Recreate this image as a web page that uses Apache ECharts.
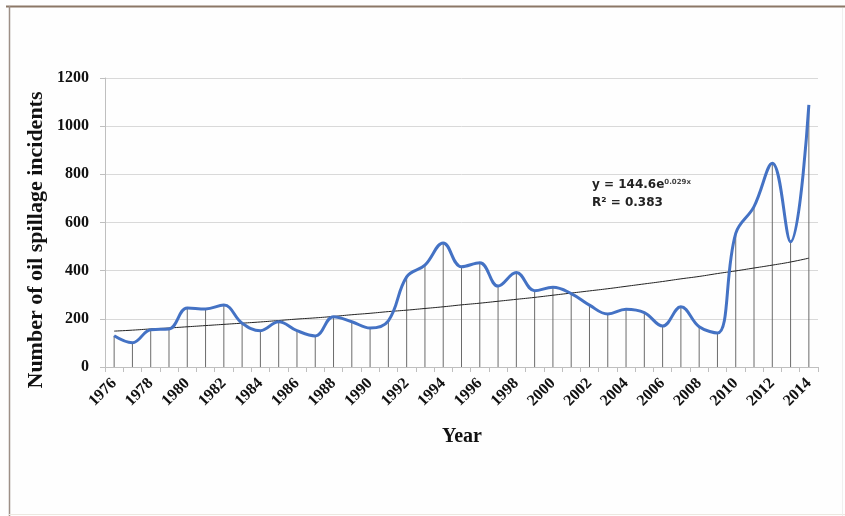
<!DOCTYPE html>
<html>
<head>
<meta charset="utf-8">
<script src="https://cdn.jsdelivr.net/npm/echarts@6/dist/echarts.min.js"></script>
<style>
  html, body { margin: 0; padding: 0; background: #fff; }
  #chart { width: 845px; height: 516px; }
</style>
</head>
<body>
<div id="chart"></div>
<script>
// years on the x axis
const years = []
for (let y = 1976; y <= 2014; y++) years.push(String(y))

// number of oil spillage incidents
const incidents = [
  130, 101, 155, 158, 245, 241, 257, 182, 151, 188,
  151, 129, 209, 188, 162, 192, 374, 423, 515, 416,
  433, 336, 392, 317, 331, 305, 257, 220, 240, 226,
  170, 250, 167, 141, 555, 666, 846, 520, 1088
]

// exponential trend line (y = 144.6e^0.029x)
const trend = [
  149, 153, 158, 162, 167, 172, 177, 182, 187, 193,
  199, 204, 210, 217, 223, 230, 236, 243, 250, 258,
  265, 273, 281, 289, 298, 307, 316, 325, 335, 345,
  355, 366, 376, 388, 399, 411, 423, 436, 452
]

const yTicks = [0, 200, 400, 600, 800, 1000, 1200]

const serif = '"Liberation Serif", "Times New Roman", serif'
const sans = '"DejaVu Sans", Verdana, sans-serif'

const chart = echarts.init(document.getElementById('chart'))

const option = {
  backgroundColor: '#fefefe',
  animation: false,
  grid: { left: 105, right: 27, top: 78, bottom: 149 },
  xAxis: {
    type: 'category',
    data: years,
    boundaryGap: true,
    axisLine: { lineStyle: { color: '#bfbfbf', width: 1 } },
    axisTick: { show: true, interval: 0, length: 5, lineStyle: { color: '#bfbfbf' } },
    axisLabel: {
      interval: 1,
      rotate: 45,
      margin: 14,
      color: '#111',
      fontFamily: serif,
      fontWeight: 'bold',
      fontSize: 16
    },
    splitLine: { show: false }
  },
  yAxis: {
    type: 'value',
    min: yTicks[0],
    max: yTicks[yTicks.length - 1],
    interval: 200,
    axisLine: { show: true, lineStyle: { color: '#bfbfbf' } },
    axisTick: { show: true, length: 5, lineStyle: { color: '#bfbfbf' } },
    axisLabel: {
      margin: 16,
      color: '#111',
      fontFamily: serif,
      fontWeight: 'bold',
      fontSize: 16,
      formatter: (v) => String(v)
    },
    splitLine: { lineStyle: { color: '#d9d9d9', width: 1 } }
  },
  series: [
    {
      // vertical drop lines
      name: 'drop',
      type: 'bar',
      data: incidents,
      barWidth: 1,
      itemStyle: { color: '#6b6b6b' },
      silent: true,
      z: 1
    },
    {
      name: 'trend',
      type: 'line',
      data: trend,
      smooth: true,
      symbol: 'none',
      lineStyle: { color: '#222', width: 1 },
      z: 2
    },
    {
      name: 'incidents',
      type: 'line',
      data: incidents,
      smooth: 0.4,
      symbol: 'none',
      lineStyle: { color: '#4472c4', width: 3 },
      z: 3
    }
  ],
  graphic: [
    // outer frame
    { type: 'line', shape: { x1: 6, y1: 6.5, x2: 845, y2: 6.5 }, style: { stroke: '#8b7766', lineWidth: 2 } },
    { type: 'line', shape: { x1: 9.5, y1: 6, x2: 9.5, y2: 516 }, style: { stroke: '#9d8f86', lineWidth: 1.5 } },
    { type: 'line', shape: { x1: 9, y1: 514.5, x2: 845, y2: 514.5 }, style: { stroke: '#ece8e0', lineWidth: 1 } },
    { type: 'line', shape: { x1: 842.5, y1: 8, x2: 842.5, y2: 516 }, style: { stroke: '#efefef', lineWidth: 1 } },
    {
      type: 'text',
      x: 36,
      y: 240,
      rotation: Math.PI / 2,
      style: {
        text: 'Number of oil spillage incidents',
        font: 'bold 22px ' + serif,
        fill: '#111',
        textAlign: 'center',
        textVerticalAlign: 'middle'
      }
    },
    {
      type: 'text',
      x: 462,
      y: 437,
      style: {
        text: 'Year',
        font: 'bold 20px ' + serif,
        fill: '#111',
        textAlign: 'center',
        textVerticalAlign: 'middle'
      }
    },
    {
      type: 'text',
      x: 592,
      y: 185,
      style: {
        text: '{m|y = 144.6e}{s|0.029x}',
        textVerticalAlign: 'middle',
        rich: {
          m: { font: 'bold 12px ' + sans, fill: '#222' },
          s: { font: 'bold 7px ' + sans, fill: '#444', verticalAlign: 'top', padding: [0, 0, 6, 0] }
        }
      }
    },
    {
      type: 'text',
      x: 592,
      y: 203,
      style: {
        text: 'R² = 0.383',
        font: 'bold 12px ' + sans,
        fill: '#222',
        textVerticalAlign: 'middle'
      }
    }
  ]
}

chart.setOption(option)
</script>
</body>
</html>
